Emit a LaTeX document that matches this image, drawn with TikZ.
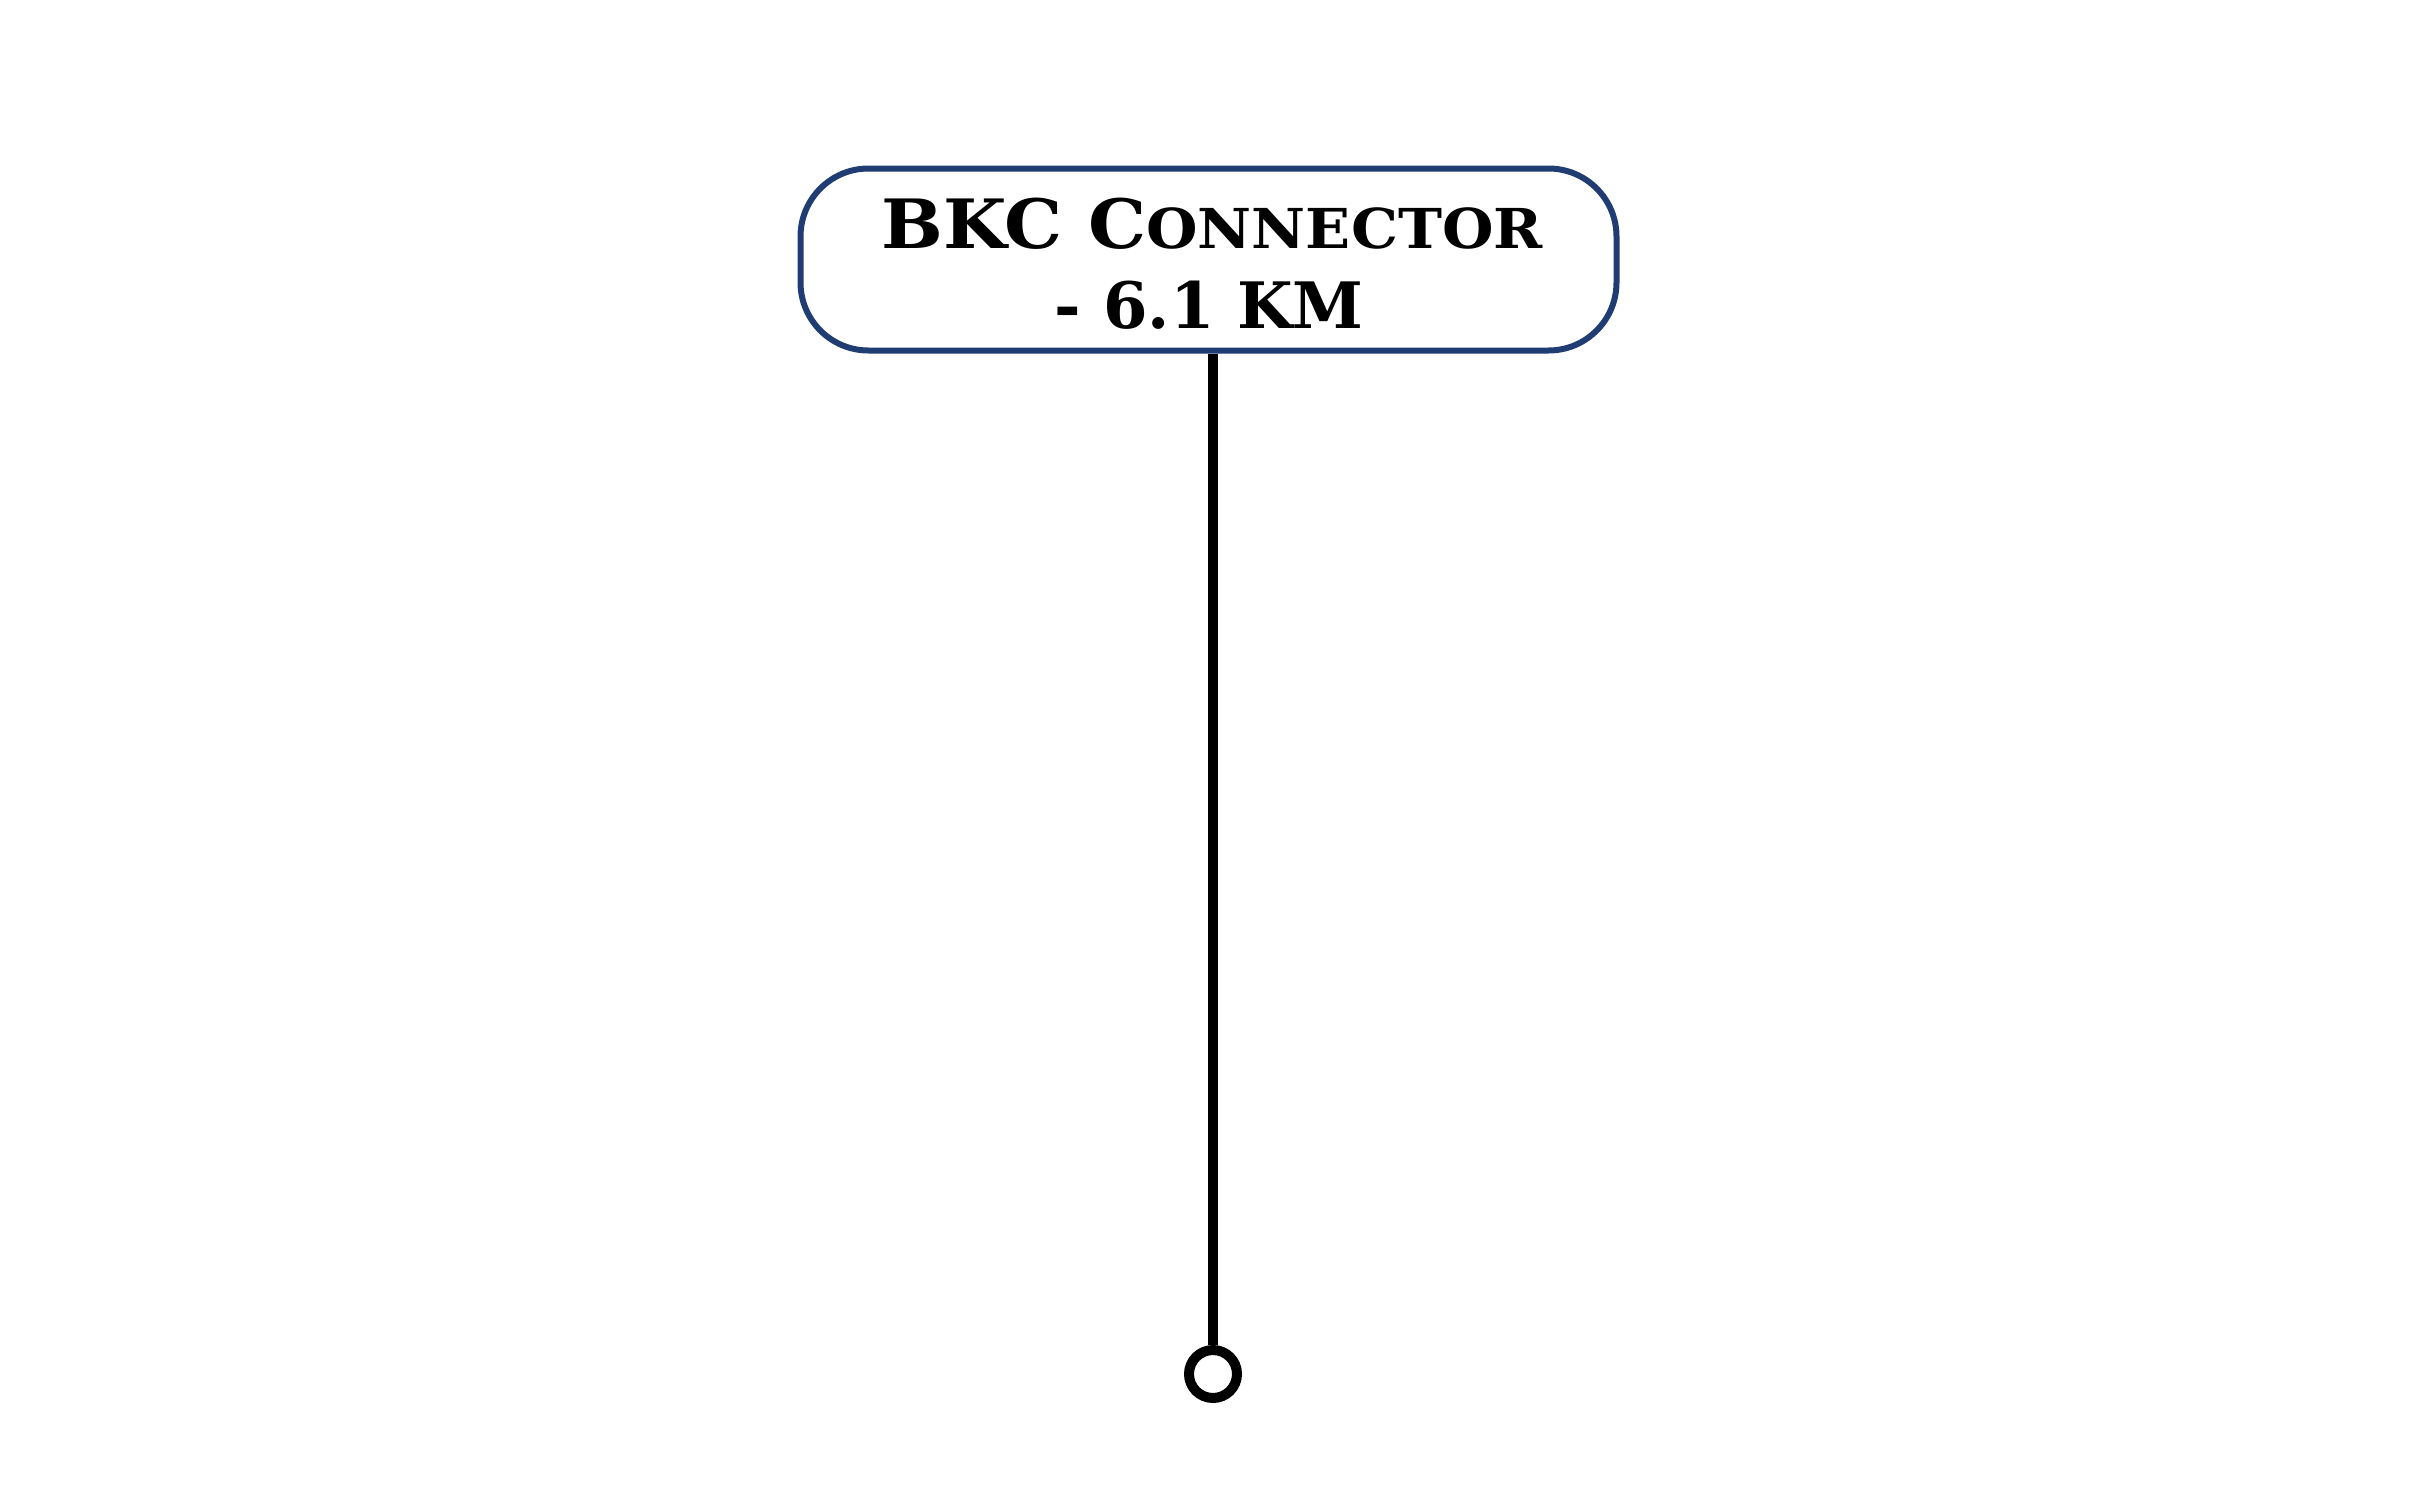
\documentclass[tikz,border=0pt]{standalone}
\usepackage{fontspec}
\setmainfont{DejaVu Serif}
\definecolor{boxblue}{HTML}{1F3C73}
\begin{document}
\begin{tikzpicture}[x=1pt,y=-1pt,
  labelbox/.style={draw=boxblue,line width=6pt,rounded corners=68pt,fill=white,
    minimum width=816pt,minimum height=182pt,inner sep=0pt},
  stem/.style={line width=10pt,black},
  endring/.style={circle,draw=black,line width=10pt,minimum size=48pt,inner sep=0pt,fill=white},
  lbl/.style={anchor=base,inner sep=0pt,font=\bfseries}]
\useasboundingbox (0,0) rectangle (2429,1488);
\node[labelbox] (box) at (1208.5,259.5) {};
\node[endring] (end) at (1213,1374) {};
\draw[stem] (box.south -| end) -- (end.north);
\node[lbl] (t1) at (1212,248) {\scalebox{1.075}[1]{\fontsize{68}{70}\selectfont BKC C\fontsize{55}{60}\selectfont ONNECTOR}};
\node[lbl] (t2) at (1209,328) {\fontsize{64}{70}\selectfont - 6.1 KM};
\end{tikzpicture}
\end{document}
